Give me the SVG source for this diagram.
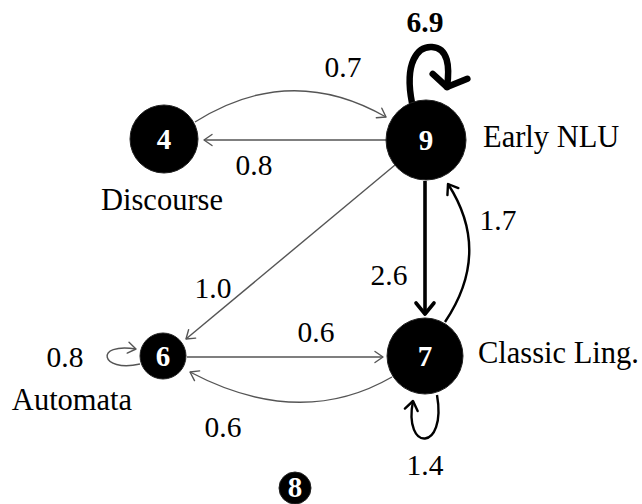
<svg xmlns="http://www.w3.org/2000/svg" width="642" height="504" viewBox="0 0 642 504">
<style>
.node{fill:#000;stroke:#222;stroke-width:1}
.num{fill:#fff;font-family:"Liberation Serif",serif;font-weight:bold;font-size:29px;text-anchor:middle}
.lbl{fill:#000;font-family:"Liberation Serif",serif;font-size:30.5px}
.w{fill:#000;font-family:"Liberation Serif",serif;font-size:29.5px;text-anchor:middle}
.thin{fill:none;stroke:#555;stroke-width:1.4}
.med{fill:none;stroke:#000;stroke-width:2.4}
.thick{fill:none;stroke:#000;stroke-width:3.6}
.loop{fill:none;stroke:#000;stroke-width:6.5;stroke-linecap:round}
</style>
<defs>
<marker id="ag" markerUnits="userSpaceOnUse" markerWidth="20" markerHeight="20" viewBox="-12 -10 14 20" refX="0" refY="0" orient="auto" overflow="visible">
<path d="M-8,-5.5 L0,0 L-8,5.5" fill="none" stroke="#555" stroke-width="1.4" stroke-linecap="round" stroke-linejoin="round"/>
</marker>
<marker id="am" markerUnits="userSpaceOnUse" markerWidth="20" markerHeight="20" viewBox="-12 -10 14 20" refX="0" refY="0" orient="auto" overflow="visible">
<path d="M-9,-6.5 L0,0 L-9,6.5" fill="none" stroke="#000" stroke-width="2.4" stroke-linecap="round" stroke-linejoin="round"/>
</marker>
<marker id="at" markerUnits="userSpaceOnUse" markerWidth="24" markerHeight="24" viewBox="-14 -12 16 24" refX="0" refY="0" orient="auto" overflow="visible">
<path d="M-11,-9 L0,0 L-11,9" fill="none" stroke="#000" stroke-width="3.6" stroke-linecap="round" stroke-linejoin="round"/>
</marker>
<marker id="ak" markerUnits="userSpaceOnUse" markerWidth="40" markerHeight="40" viewBox="-20 -20 24 40" refX="0" refY="0" orient="auto" overflow="visible">
<path d="M-11,-19 L0,0 L-11,16" fill="none" stroke="#000" stroke-width="6.5" stroke-linecap="round" stroke-linejoin="round"/>
</marker>
</defs>

<g id="edges">
<path id="e9-4" class="thin" d="M386,140 L204,140" marker-end="url(#ag)"/>
<path id="e4-9" class="thin" d="M195,122 Q290,62 386,117" marker-end="url(#ag)"/>
<path id="e9-6" class="thin" d="M395,165 L186,339" marker-end="url(#ag)"/>
<path id="e9-7" class="thick" d="M425,181 L425,314" marker-end="url(#at)"/>
<path id="e7-9" class="med" d="M445,322 Q492,252 448,184" marker-end="url(#am)"/>
<path id="e6-7" class="thin" d="M187,357 L383,357" marker-end="url(#ag)"/>
<path id="e7-6" class="thin" d="M392,377 Q300,430 190,372" marker-end="url(#ag)"/>
<path id="e6-6" class="thin" d="M140,364 C100,373 94,342 136,349" marker-end="url(#ag)"/>
<path id="e7-7" class="med" d="M437,395 C447,452 403,452 413,401" marker-end="url(#am)"/>
<path id="e9-9" class="loop" d="M412,103 C404,62 418,46 432,47 C448,48 450,66 447,87" marker-end="url(#ak)"/>
</g>

<g id="edge-labels">
<text class="w" x="425" y="32" font-weight="bold" font-size="31">6.9</text>
<text class="w" x="343" y="77">0.7</text>
<text class="w" x="254" y="175">0.8</text>
<text class="w" x="498" y="230">1.7</text>
<text class="w" x="389" y="285">2.6</text>
<text class="w" x="213" y="298">1.0</text>
<text class="w" x="316" y="342">0.6</text>
<text class="w" x="223" y="437">0.6</text>
<text class="w" x="65" y="367">0.8</text>
<text class="w" x="425" y="475">1.4</text>
</g>

<g id="n9">
<circle class="node" cx="426" cy="140" r="40"/>
<text class="num" x="426" y="150">9</text>
<text class="lbl" x="483" y="147">Early NLU</text>
</g>
<g id="n4">
<circle class="node" cx="164" cy="139" r="34"/>
<text class="num" x="164" y="149">4</text>
<text class="lbl" x="162" y="210" text-anchor="middle">Discourse</text>
</g>
<g id="n6">
<circle class="node" cx="163" cy="356" r="23"/>
<text class="num" x="163" y="366">6</text>
<text class="lbl" x="72" y="410" text-anchor="middle">Automata</text>
</g>
<g id="n7">
<circle class="node" cx="425" cy="356" r="38"/>
<text class="num" x="425" y="366">7</text>
<text class="lbl" x="478" y="363">Classic Ling.</text>
</g>
<g id="n8">
<circle class="node" cx="295" cy="488" r="16"/>
<text class="num" x="295" y="497" font-size="27">8</text>
</g>
</svg>
